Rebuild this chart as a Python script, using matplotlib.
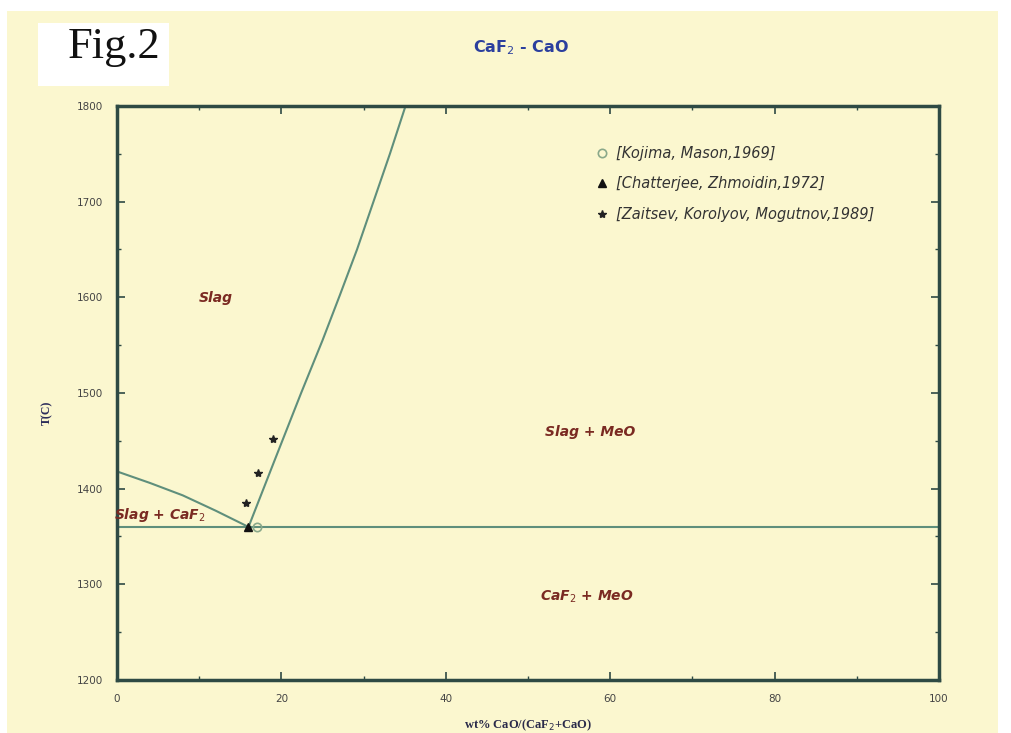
import numpy as np
import matplotlib
matplotlib.use("Agg")
import matplotlib.pyplot as plt
from matplotlib.patches import Rectangle
from matplotlib.ticker import MultipleLocator

# liquidus on the CaF2 side
left_x = [0, 4, 8, 12, 16]
left_t = [1418, 1406, 1393, 1377, 1360]
# liquidus on the CaO side
right_x = [16, 19.1, 22.4, 25.0, 27.1, 29.2, 31.2, 33.2, 35.1]
right_t = [1360, 1428, 1500, 1555, 1602, 1650, 1700, 1750, 1800]
# eutectic isotherm
eut_x = [0, 100]
eut_t = [1360, 1360]

kojima_x = [17.0]
kojima_t = [1360]
chatterjee_x = [15.9]
chatterjee_t = [1360]
zaitsev_x = [15.7, 17.2, 19.0]
zaitsev_t = [1385, 1416, 1452]

legend_labels = ['[Kojima, Mason,1969]',
                 '[Chatterjee, Zhmoidin,1972]',
                 '[Zaitsev, Korolyov, Mogutnov,1989]']

bg = '#fbf7cf'
line_c = '#5f8f7c'
spine_c = '#2e4a44'
label_c = '#7a2a22'

fig = plt.figure(figsize=(10.11, 7.33), dpi=100, facecolor='white')
fig.patches.append(Rectangle((7 / 1011, 0), 991 / 1011, 722 / 733,
                             transform=fig.transFigure, facecolor=bg,
                             edgecolor='none', zorder=-3))
fig.patches.append(Rectangle((38 / 1011, 1 - 86 / 733), 131 / 1011, 63 / 733,
                             transform=fig.transFigure, facecolor='white',
                             edgecolor='none', zorder=-2))

ax = fig.add_axes([117 / 1011, 1 - 680 / 733, 822 / 1011, 574 / 733])
ax.set_zorder(1)
ax.set_facecolor(bg)
ax.set_xlim(0, 100)
ax.set_ylim(1200, 1800)

ax.plot(left_x, left_t, color=line_c, lw=1.5)
ax.plot(right_x, right_t, color=line_c, lw=1.5)
ax.plot(eut_x, eut_t, color=line_c, lw=1.5)

ax.plot(kojima_x, kojima_t, 'o', ms=6, mfc='none', mec='#8aa88a', mew=1.2,
        ls='none', label=legend_labels[0])
ax.plot(chatterjee_x, chatterjee_t, '^', ms=6, color='#111111',
        ls='none', label=legend_labels[1])
ax.plot(zaitsev_x, zaitsev_t, '*', ms=6, color='#222222',
        ls='none', label=legend_labels[2])

leg = ax.legend(loc='upper left', bbox_to_anchor=(0.563, 0.953), frameon=False,
                handletextpad=0.4, labelspacing=1.05, handlelength=1.2,
                prop={'style': 'italic', 'size': 10.5})
for t in leg.get_texts():
    t.set_color('#333333')

txt = dict(color=label_c, fontweight='bold', fontstyle='italic', fontsize=10)
ax.text(12.0, 1599, 'Slag', ha='center', va='center', **txt)
ax.text(57.6, 1459, 'Slag + MeO', ha='center', va='center', **txt)
ax.text(57.2, 1287, 'CaF$_2$ + MeO', ha='center', va='center', **txt)
ax.text(-0.4, 1372, 'Slag + CaF$_2$', ha='left', va='center', **txt)

ax.xaxis.set_major_locator(MultipleLocator(20))
ax.xaxis.set_minor_locator(MultipleLocator(10))
ax.yaxis.set_major_locator(MultipleLocator(100))
ax.yaxis.set_minor_locator(MultipleLocator(50))
ax.tick_params(which='both', direction='in', top=True, right=True,
               color=spine_c, labelsize=7.5, labelcolor='#444444')
ax.tick_params(which='major', length=6, width=1.2, pad=10)
ax.tick_params(which='minor', length=3, width=1.0)
for s in ax.spines.values():
    s.set_color(spine_c)
    s.set_linewidth(2.5)

fig.text(114 / 1011, 1 - 47 / 733, 'Fig.2', family='Liberation Serif',
         fontsize=32, ha='center', va='center', color='#111111')
fig.text(521 / 1011, 1 - 48 / 733, 'CaF$_2$ - CaO', fontsize=11.5,
         fontweight='bold', ha='center', va='center', color='#2b3f9e')
fig.text(47 / 1011, 1 - 413 / 733, 'T(C)', family='Liberation Serif',
         fontsize=8.5, fontweight='bold', rotation=90, ha='center',
         va='center', color='#2a2a5a')
fig.text(528 / 1011, 1 - 725 / 733, 'wt% CaO/(CaF$_2$+CaO)',
         family='Liberation Serif', fontsize=9, fontweight='bold',
         ha='center', va='center', color='#2a2a4a')

fig.savefig('out.png', dpi=100, facecolor='white')
